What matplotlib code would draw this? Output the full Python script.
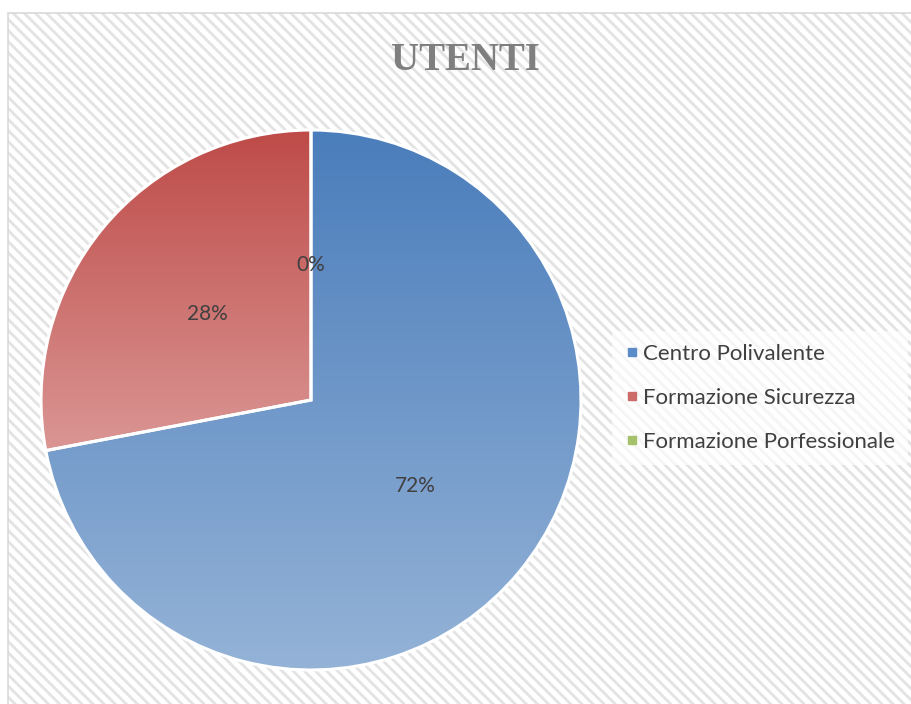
import numpy as np
import matplotlib
matplotlib.use("Agg")
import matplotlib.pyplot as plt
from matplotlib.patches import Rectangle
from matplotlib.lines import Line2D
from matplotlib.colors import LinearSegmentedColormap

title = "UTENTI"
categories = ["Centro Polivalente", "Formazione Sicurezza", "Formazione Porfessionale"]
values = [72, 28, 0]
top_colors = ["#4A7DBB", "#BE4B48", "#9BBB59"]
bottom_colors = ["#95B3D7", "#DA9694", "#C3D69B"]
legend_colors = ["#5B8BC9", "#CD6B69", "#A5C26A"]

plt.rcParams['hatch.linewidth'] = 2.0
W, H = 912, 704
fig = plt.figure(figsize=(W / 100, H / 100), dpi=100)
fig.patch.set_facecolor("white")

# hatched chart background
bg = Rectangle((8 / W, 0), 1, 1 - 13 / H, transform=fig.transFigure,
               facecolor="white", edgecolor="#E3E3E3", hatch="\\\\\\", linewidth=0, zorder=-3)
fig.patches.append(bg)
frame = Rectangle((8 / W, -0.1), 1, 1.1 - 13 / H, transform=fig.transFigure,
                  facecolor="none", edgecolor="#D9D9D9", linewidth=1.2, zorder=-2)
fig.patches.append(frame)

cx, cy, r = 311, 400, 270
ax = fig.add_axes([(cx - r) / W, (H - cy - r) / H, 2 * r / W, 2 * r / H])
ax.axis("off")

wedges, texts, autotexts = ax.pie(
    values, startangle=90, counterclock=False, radius=1,
    autopct=lambda p: f"{p:.0f}%", pctdistance=0.5,
    colors=top_colors,
    wedgeprops=dict(edgecolor="white", linewidth=2.2),
    textprops=dict(color="#404040", fontsize=15, family=["Lato", "DejaVu Sans"]))

for w, c0, c1 in zip(wedges, top_colors, bottom_colors):
    if w.theta2 - w.theta1 <= 0:
        continue
    verts = w.get_path().vertices
    ymin, ymax = verts[:, 1].min(), verts[:, 1].max()
    cmap = LinearSegmentedColormap.from_list("g", [c1, c0])
    grad = np.linspace(0, 1, 256).reshape(-1, 1)
    im = ax.imshow(grad, cmap=cmap, origin="lower", extent=[-1, 1, ymin, ymax],
                   aspect="auto", zorder=w.get_zorder(), interpolation="bilinear")
    im.set_clip_path(w)
    w.set_facecolor("none")
    w.set_zorder(w.get_zorder() + 0.5)
ax.set_xlim(-1, 1)
ax.set_ylim(-1, 1)
ax.set_aspect("equal")

for t in autotexts:
    t.set_zorder(5)

fig.text(465 / W, 1 - 60 / H, title, ha="center", va="center",
         fontsize=28, fontweight="bold", color="#7F7F7F", family="Liberation Serif")

handles = [Line2D([], [], marker="s", linestyle="none", markersize=6,
                  markerfacecolor=c, markeredgecolor=c) for c in legend_colors]
leg = fig.legend(handles, categories, loc="center left",
                 bbox_to_anchor=(612 / W, 1 - 398 / H), frameon=True,
                 prop=dict(family=["Lato", "DejaVu Sans"], size=16),
                 labelcolor="#404040", handlelength=0.6, handletextpad=0.2,
                 labelspacing=1.08, borderpad=0.6, borderaxespad=0)
leg.get_frame().set_facecolor("white")
leg.get_frame().set_alpha(0.65)
leg.get_frame().set_linewidth(0)

fig.savefig("out.png", dpi=100)
